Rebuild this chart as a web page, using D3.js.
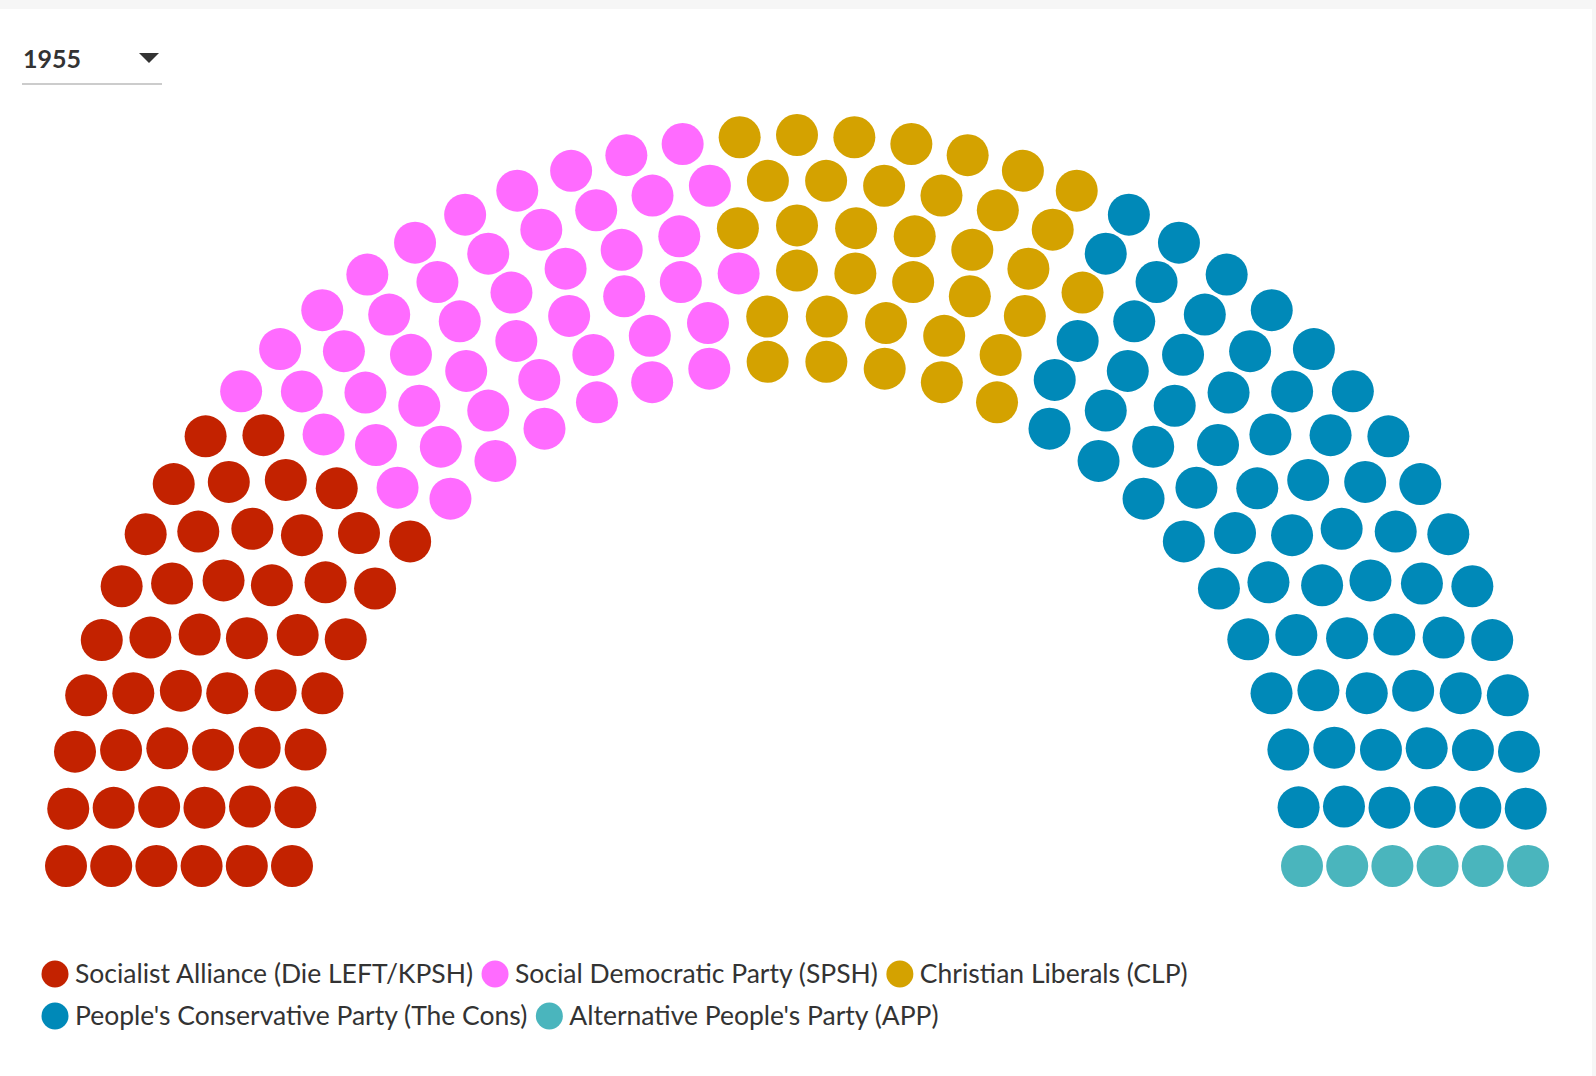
<!DOCTYPE html>
<html><head><meta charset="utf-8">
<script src="https://cdn.jsdelivr.net/npm/d3@7"></script>
<style>body{margin:0;background:#fff;font-family:Lato,"Source Sans Pro",sans-serif}</style>
</head><body>
<svg id="c" width="1596" height="1076"></svg>
<script>
const year = "1955";
const parties = ["Socialist Alliance (Die LEFT/KPSH)","Social Democratic Party (SPSH)","Christian Liberals (CLP)","People's Conservative Party (The Cons)","Alternative People's Party (APP)"];
const seats = [48,48,35,68,6];
const colors = ["#c32200","#ff6bff","#d4a200","#0089b8","#4ab5bd"];
const ringSeats = [28,30,33,35,38,41];

const svg = d3.select("#c");
svg.append("rect").attr("width",1596).attr("height",9).attr("fill","#f6f6f6");
svg.append("rect").attr("x",1592).attr("width",4).attr("height",1076).attr("fill","#f6f6f6");

// dropdown
svg.append("text").attr("x",23).attr("y",68).attr("font-size",25).attr("font-weight",700).attr("fill","#333").text(year);
svg.append("path").attr("d","M139,53 L159,53 L149,63 Z").attr("fill","#333");
svg.append("line").attr("x1",22).attr("x2",162).attr("y1",84).attr("y2",84).attr("stroke","#ccc").attr("stroke-width",2);

const cx=797, cy=866;
const r = d3.scaleLinear().domain([0,ringSeats.length-1]).range([505,731]);
let all=[];
ringSeats.forEach((n,i)=>{
  for(let j=0;j<n;j++){ all.push({ring:i,a:Math.PI - j*Math.PI/(n-1)}); }
});
all.sort((p,q)=> (q.a-p.a) || (q.ring-p.ring));
let idx=0;
seats.forEach((s,pi)=>{ for(let k=0;k<s;k++){ if(all[idx]) all[idx].p=pi; idx++; } });
svg.append("g").selectAll("circle").data(all).join("circle")
  .attr("cx",d=>cx+r(d.ring)*Math.cos(d.a))
  .attr("cy",d=>cy-r(d.ring)*Math.sin(d.a))
  .attr("r",21).attr("fill",d=>colors[d.p]);

// legend
let x=41, y=974;
parties.forEach((p,i)=>{
  const g=svg.append("g");
  g.append("circle").attr("cx",14).attr("cy",0).attr("r",13.5).attr("fill",colors[i]);
  const t=g.append("text").attr("x",34).attr("y",9).attr("font-size",26.5).attr("fill","#333").text(p);
  const w=34+t.node().getComputedTextLength()+8;
  if(i===3){x=41;y+=42;}
  g.attr("transform",`translate(${x},${y})`);
  x+=w;
});
</script></body></html>
